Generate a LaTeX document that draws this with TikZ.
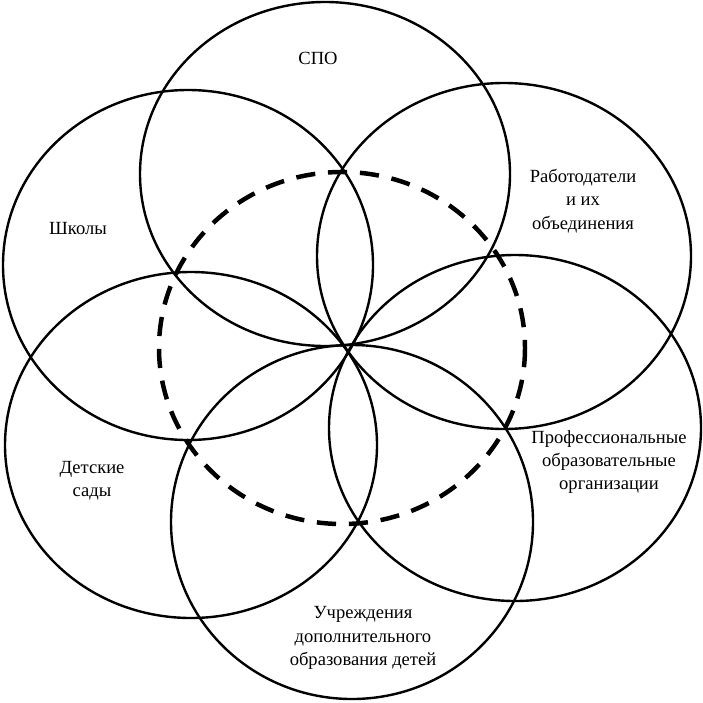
\documentclass[tikz,border=0pt]{standalone}
\usepackage{fontspec}
\setmainfont{Liberation Serif}
\usepackage{tikz}

\begin{document}
\begin{tikzpicture}[x=0.625pt, y=-0.625pt]
			\useasboundingbox (0,0) rectangle (703,702);
			\tikzset{label/.style={align=center, font=\fontsize{11.6}{14.6}\selectfont}}
			\draw[line width=1.5pt] (325,174) ellipse [x radius=185, y radius=172];
			\draw[line width=1.5pt] (504,256) ellipse [x radius=187, y radius=173];
			\draw[line width=1.5pt] (515,428) ellipse [x radius=186, y radius=173];
			\draw[line width=1.5pt] (352,522) ellipse [x radius=181, y radius=177];
			\draw[line width=1.5pt] (191,445) ellipse [x radius=186, y radius=173];
			\draw[line width=1.5pt] (188,265) ellipse [x radius=185, y radius=175];
			\draw[line width=2.8pt, dash pattern=on 12pt off 8pt] (342,348) ellipse [x radius=183, y radius=176];
			\node[label] (spo) at (318,58) {СПО};
			\node[label] (employers) at (583,201) {Работодатели\\и их\\объединения};
			\node[label] (vocational) at (609,462) {Профессиональные\\образовательные\\организации};
			\node[label] (extra) at (363,638) {Учреждения\\дополнительного\\образования детей};
			\node[label] (kindergartens) at (92,481) {Детские\\сады};
			\node[label] (schools) at (78,229) {Школы};
		\end{tikzpicture}
\end{document}
